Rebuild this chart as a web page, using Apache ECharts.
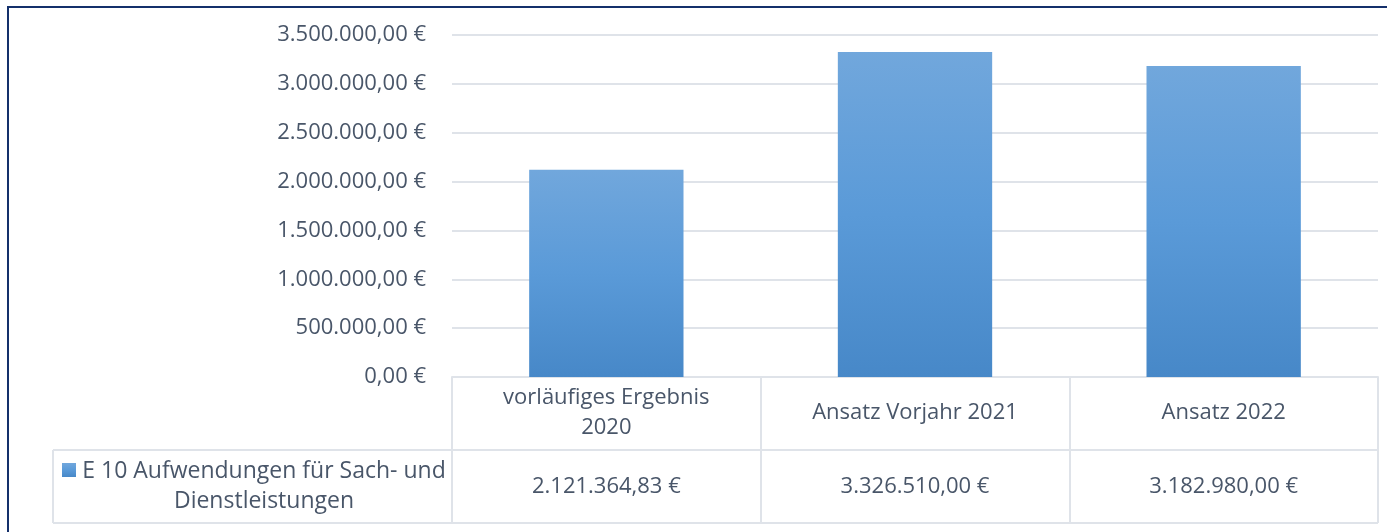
<!DOCTYPE html>
<html>
<head>
    <meta charset="utf-8">
    <title>E 10 Aufwendungen</title>
    <script src="https://cdn.jsdelivr.net/npm/echarts@6/dist/echarts.min.js"></script>
    <style>
        html, body { margin: 0; padding: 0; background: #fff; }
        #main { width: 1387px; height: 532px; }
    </style>
</head>
<body>
<div id="main"></div>
<script>
    // data
    var categories = ['vorläufiges Ergebnis\n2020', 'Ansatz Vorjahr 2021', 'Ansatz 2022'];
    var seriesName = 'E 10 Aufwendungen für Sach- und\nDienstleistungen';
    var values = [2121364.83, 3326510.00, 3182980.00];
    var yMax = 3500000;
    var yStep = 500000;

    // layout
    var gridLeft = 452, gridRight = 9, gridTop = 35, gridBottom = 377;
    var rowH = 73;
    var tableLeft = 53;
    var textColor = '#495669';
    var lineColor = '#dfe3e9';
    var font = '"Open Sans", "Noto Sans", sans-serif';
    var fs = 22;

    function euro(v) {
        var parts = v.toFixed(2).split('.');
        var intPart = parts[0].replace(/\B(?=(\d{3})+(?!\d))/g, '.');
        return intPart + ',' + parts[1] + ' €';
    }

    var barColor = new echarts.graphic.LinearGradient(0, 0, 0, 1, [
        {offset: 0, color: '#71a7dc'},
        {offset: 0.5, color: '#5a9ad8'},
        {offset: 1, color: '#4788c8'}
    ]);

    var chart = echarts.init(document.getElementById('main'));
    var W = 1387;
    var tableBottom = gridBottom + rowH * 2;

    var option = {
        animation: false,
        grid: {
            left: gridLeft,
            right: gridRight,
            top: gridTop,
            bottom: 532 - gridBottom
        },
        xAxis: [
            {
                type: 'category',
                data: categories,
                position: 'bottom',
                axisLine: {show: true, lineStyle: {color: lineColor, width: 2}},
                axisTick: {show: true, interval: 0, length: rowH * 2, lineStyle: {color: lineColor, width: 2}},
                axisLabel: {
                    interval: 0, color: textColor, fontFamily: font, fontSize: fs,
                    lineHeight: 30, margin: 36, verticalAlign: 'middle'
                }
            },
            {
                type: 'category',
                data: values.map(euro),
                position: 'bottom',
                offset: rowH,
                axisLine: {show: true, lineStyle: {color: lineColor, width: 2}},
                axisTick: {show: false},
                axisLabel: {
                    interval: 0, color: textColor, fontFamily: font, fontSize: fs,
                    margin: 37, verticalAlign: 'middle'
                }
            }
        ],
        yAxis: {
            type: 'value',
            min: 0,
            max: yMax,
            interval: yStep,
            axisLine: {show: false},
            axisTick: {show: false},
            splitLine: {lineStyle: {color: lineColor, width: 2}},
            axisLabel: {
                color: textColor, fontFamily: font, fontSize: fs, margin: 26,
                formatter: function (v) { return euro(v); }
            }
        },
        series: [{
            name: seriesName,
            type: 'bar',
            data: values,
            barWidth: '50%',
            itemStyle: {color: barColor}
        }],
        graphic: [
            // chart frame
            {type: 'rect', shape: {x: 8, y: 7, width: W + 20, height: 600},
             style: {fill: 'none', stroke: '#14306b', lineWidth: 2}, silent: true},
            // legend cell lines
            {type: 'line', shape: {x1: tableLeft, y1: gridBottom + rowH, x2: gridLeft, y2: gridBottom + rowH},
             style: {stroke: lineColor, lineWidth: 2}},
            {type: 'line', shape: {x1: tableLeft, y1: tableBottom, x2: W - gridRight, y2: tableBottom},
             style: {stroke: lineColor, lineWidth: 2}},
            {type: 'line', shape: {x1: tableLeft, y1: gridBottom + rowH, x2: tableLeft, y2: tableBottom},
             style: {stroke: lineColor, lineWidth: 2}},
            // legend key
            {type: 'rect', shape: {x: 62, y: 463, width: 14, height: 14},
             style: {fill: barColor}},
            {type: 'text', x: 264, y: gridBottom + rowH + rowH / 2,
             style: {text: seriesName, fill: textColor, font: '23px ' + font,
                     textAlign: 'center', textVerticalAlign: 'middle', lineHeight: 30}}
        ]
    };
    chart.setOption(option);
</script>
</body>
</html>
